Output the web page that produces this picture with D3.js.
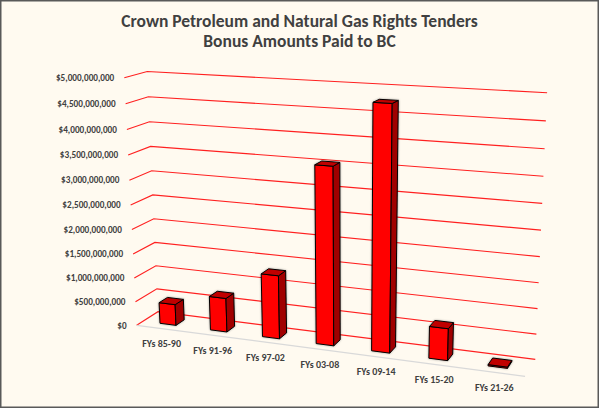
<!DOCTYPE html>
<html>
<head>
<meta charset="utf-8">
<script src="https://cdn.jsdelivr.net/npm/d3@7"></script>
<style>
  body { margin: 0; background: #fffaf0; }
  svg { display: block; }
  text { font-family: Calibri, Carlito, "Open Sans", sans-serif; fill: #404040; }
</style>
</head>
<body>
<div id="chart"></div>
<script>
// data
var categories = ["FYs 85-90", "FYs 91-96", "FYs 97-02", "FYs 03-08", "FYs 09-14", "FYs 15-20", "FYs 21-26"];
var bonus = [440e6, 700e6, 1290e6, 3530e6, 4760e6, 630e6, 25e6];
var tickValues = [0, 5e8, 1e9, 1.5e9, 2e9, 2.5e9, 3e9, 3.5e9, 4e9, 4.5e9, 5e9];
var titleLines = ["Crown Petroleum and Natural Gas Rights Tenders", "Bonus Amounts Paid to BC"];

// layout
var width = 599, height = 408;
var barDepth = [0.3, 0.7];

// plot box corners (world x,y,z in 0..1) and where they land on screen
var frame = [
  [0, 1, 0, 124, 77.7], [0, 0.9, 0, 126, 103.7], [0, 0.2, 0, 134, 278.3],
  [0, 0.1, 0, 135.7, 301.7], [0, 0, 0, 136.7, 325],
  [0, 1, 1, 147.3, 71.7], [0, 0.9, 1, 148.3, 96.7], [0, 0.2, 1, 155.7, 265.7],
  [0, 0.1, 1, 156.7, 289], [0, 0, 1, 158.3, 311.7],
  [1, 1, 1, 547, 92.7], [1, 0.9, 1, 546, 121], [1, 0.1, 1, 536, 334],
  [1, 0, 1, 535.7, 359.3], [1, 0, 0, 525, 376.5]
];

// fit a 3x4 perspective camera to the frame points (least squares)
function fitCamera(pts) {
  var n = 11, M = [], r, i, j, k;
  for (i = 0; i < n; i++) { M.push(new Array(n + 1).fill(0)); }
  pts.forEach(function(p) {
    var X = p[0], Y = p[1], Z = p[2], u = p[3], v = p[4];
    var rows = [
      [[X, Y, Z, 1, 0, 0, 0, 0, -u * X, -u * Y, -u * Z], u],
      [[0, 0, 0, 0, X, Y, Z, 1, -v * X, -v * Y, -v * Z], v]
    ];
    rows.forEach(function(rw) {
      for (i = 0; i < n; i++) {
        for (j = 0; j < n; j++) M[i][j] += rw[0][i] * rw[0][j];
        M[i][n] += rw[0][i] * rw[1];
      }
    });
  });
  for (i = 0; i < n; i++) {
    var piv = i;
    for (r = i + 1; r < n; r++) if (Math.abs(M[r][i]) > Math.abs(M[piv][i])) piv = r;
    var t = M[i]; M[i] = M[piv]; M[piv] = t;
    for (r = 0; r < n; r++) {
      if (r === i) continue;
      var f = M[r][i] / M[i][i];
      for (k = i; k <= n; k++) M[r][k] -= f * M[i][k];
    }
  }
  return M.map(function(row, i) { return row[n] / row[i]; });
}
var P = fitCamera(frame);
function project(X, Y, Z) {
  var w = P[8] * X + P[9] * Y + P[10] * Z + 1;
  return [(P[0] * X + P[1] * Y + P[2] * Z + P[3]) / w,
          (P[4] * X + P[5] * Y + P[6] * Z + P[7]) / w];
}
function poly(pts) {
  return "M" + pts.map(function(p) { return project(p[0], p[1], p[2]).join(","); }).join("L") + "Z";
}

// scales
var x = d3.scaleBand().domain(categories).range([0, 1]).paddingInner(0.68).paddingOuter(0.34);
var y = d3.scaleLinear().domain([0, 5e9]).range([0, 1]);
var fmt = function(d) { return "$" + d3.format(",")(d); };

var svg = d3.select("#chart").append("svg")
  .attr("width", width)
  .attr("height", height);

var defs = svg.append("defs");
defs.append("filter")
  .attr("id", "shadow")
  .attr("x", "-20%").attr("y", "-20%").attr("width", "140%").attr("height", "140%")
  .append("feDropShadow")
  .attr("dx", 0).attr("dy", 0)
  .attr("stdDeviation", 1)
  .attr("flood-color", "#000")
  .attr("flood-opacity", 0.35);

svg.append("rect")
  .attr("x", 0.75).attr("y", 0.75)
  .attr("width", width - 1.5).attr("height", height - 1.5)
  .attr("fill", "#fffaf0")
  .attr("stroke", "#595959")
  .attr("stroke-width", 1.5);

svg.selectAll(".title")
  .data(titleLines)
  .enter().append("text")
  .attr("class", "title")
  .attr("x", width / 2)
  .attr("y", function(d, i) { return 26.7 + i * 20.6; })
  .attr("text-anchor", "middle")
  .style("font-size", "17.5px")
  .style("font-weight", "bold")
  .text(function(d) { return d; });

// gridlines: side wall piece + back wall piece
var line = d3.line();
svg.selectAll(".grid")
  .data(tickValues)
  .enter().append("path")
  .attr("class", "grid")
  .attr("d", function(d) {
    return line([project(0, y(d), 0), project(0, y(d), 1), project(1, y(d), 1)]);
  })
  .attr("fill", "none")
  .attr("stroke", "#ff2020")
  .attr("stroke-width", 1.1);

// floor front edge
svg.append("path")
  .attr("d", line([project(0, 0, 0), project(1, 0, 0)]))
  .attr("stroke", "#d9d9d9")
  .attr("stroke-width", 1.2)
  .attr("fill", "none");

// value labels
svg.selectAll(".ylab")
  .data(tickValues)
  .enter().append("text")
  .attr("class", "ylab")
  .attr("x", function(d) { return project(0, y(d), 0)[0] - 10; })
  .attr("y", function(d) { return project(0, y(d), 0)[1]; })
  .attr("dy", "0.35em")
  .attr("text-anchor", "end")
  .style("font-size", "9.2px")
  .style("font-weight", "bold")
  .text(fmt);

// category labels
svg.selectAll(".xlab")
  .data(categories)
  .enter().append("text")
  .attr("class", "xlab")
  .attr("x", function(d) { return project(x(d) + x.bandwidth() / 2, 0, 0)[0]; })
  .attr("y", function(d) { return project(x(d) + x.bandwidth() / 2, 0, 0)[1] + 15; })
  .attr("dy", "0.35em")
  .attr("text-anchor", "middle")
  .style("font-size", "10px")
  .style("font-weight", 600)
  .text(function(d) { return d; });

// bars
var z0 = barDepth[0], z1 = barDepth[1];
var bars = svg.selectAll(".bar")
  .data(categories.map(function(c, i) { return {cat: c, value: bonus[i]}; }))
  .enter().append("g")
  .attr("class", "bar")
  .attr("filter", "url(#shadow)")
  .attr("stroke", "#000")
  .attr("stroke-width", 1)
  .attr("stroke-linejoin", "round");

bars.append("path")
  .attr("fill", "#ff0000")
  .attr("d", function(d) {
    var a = x(d.cat), b = a + x.bandwidth(), h = y(d.value);
    return poly([[a, 0, z0], [b, 0, z0], [b, h, z0], [a, h, z0]]);
  });
bars.append("path")
  .attr("fill", "#a00000")
  .attr("d", function(d) {
    var b = x(d.cat) + x.bandwidth(), h = y(d.value);
    return poly([[b, 0, z0], [b, 0, z1], [b, h, z1], [b, h, z0]]);
  });
bars.append("path")
  .attr("fill", "#c00000")
  .attr("d", function(d) {
    var a = x(d.cat), b = a + x.bandwidth(), h = y(d.value);
    return poly([[a, h, z0], [b, h, z0], [b, h, z1], [a, h, z1]]);
  });
</script>
</body>
</html>
